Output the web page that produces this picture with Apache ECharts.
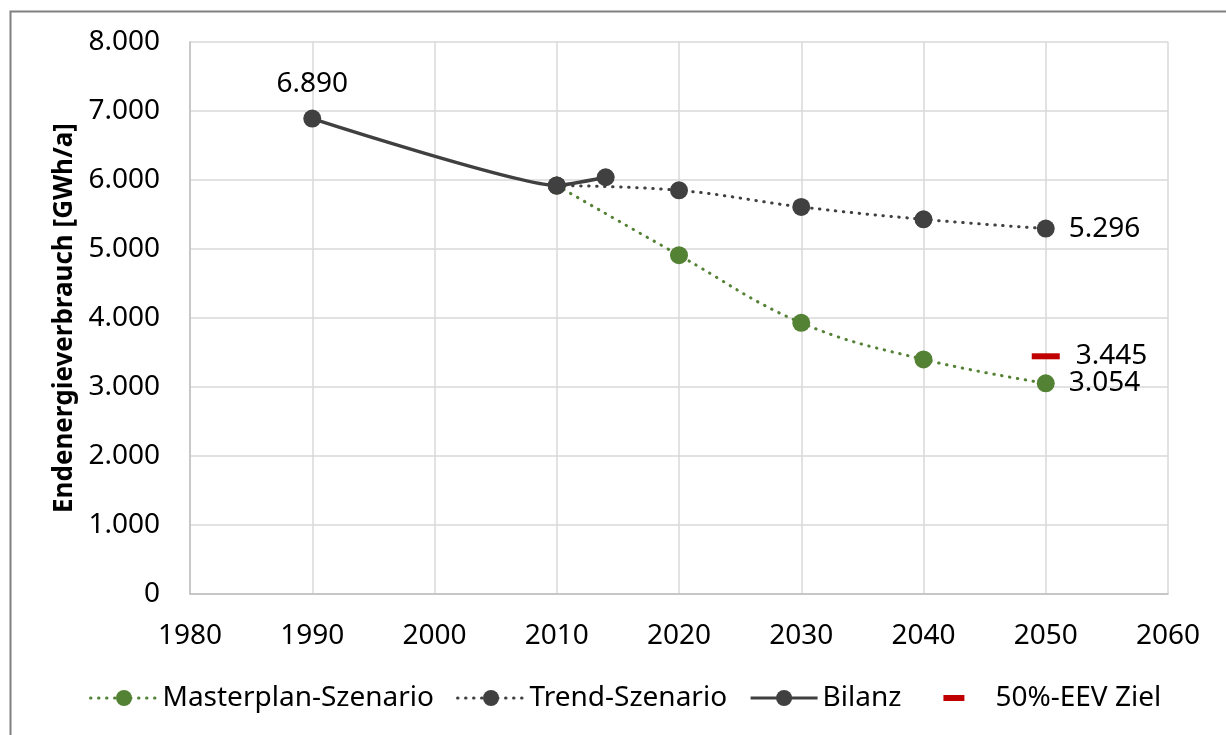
<!DOCTYPE html>
<html>
<head>
<meta charset="utf-8">
<script src="https://cdn.jsdelivr.net/npm/echarts@6/dist/echarts.min.js"></script>
<style>
html,body{margin:0;padding:0;background:#fff;}
#chart{width:1226px;height:735px;}
</style>
</head>
<body>
<div id="chart"></div>
<script>
// ---- data ----
const bilanzYears = [1990, 2010, 2014];
const bilanzValues = [6890, 5920, 6040];
const trendYears = [2010, 2020, 2030, 2040, 2050];
const trendValues = [5920, 5850, 5610, 5430, 5296];
const masterYears = [2010, 2020, 2030, 2040, 2050];
const masterValues = [5920, 4910, 3930, 3400, 3054];
const zielYears = [2050];
const zielValues = [3445];
const seriesNames = ['Masterplan-Szenario', 'Trend-Szenario', 'Bilanz', '50%-EEV Ziel'];
const yAxisTitle = 'Endenergieverbrauch [GWh/a]';

const FONT = '"Noto Sans", sans-serif';
const fmt = v => String(v).replace(/\B(?=(\d{3})+(?!\d))/g, '.');

function pairs(xs, ys, labelIdx, pos, dist) {
  return xs.map((x, i) => {
    const d = { value: [x, ys[i]] };
    if (i === labelIdx) {
      d.label = { show: true, position: pos, distance: dist, formatter: p => fmt(p.value[1]),
        color: '#000', fontSize: 28, fontFamily: FONT };
    }
    return d;
  });
}

const green = '#548235';
const dark = '#404040';
const red = '#C00000';

const chart = echarts.init(document.getElementById('chart'), null, { renderer: 'canvas' });
chart.setOption({
  animation: false,
  backgroundColor: '#fff',
  textStyle: { fontFamily: FONT },
  graphic: [{
    type: 'rect', left: 8, top: 9, silent: true, z: -10,
    shape: { width: 1400, height: 900 },
    style: { fill: 'none', stroke: '#808080', lineWidth: 2 }
  }],
  grid: { left: 190, right: 58, top: 42, bottom: 141, containLabel: false },
  xAxis: {
    type: 'value', min: 1980, max: 2060, interval: 10,
    axisLine: { show: true, lineStyle: { color: '#bfbfbf', width: 1.5 } },
    axisTick: { show: false },
    splitLine: { show: true, lineStyle: { color: '#d9d9d9', width: 1.5 } },
    axisLabel: { color: '#000', fontSize: 28, fontFamily: FONT, margin: 28, formatter: v => String(v) }
  },
  yAxis: {
    type: 'value', min: 0, max: 8000, interval: 1000,
    name: yAxisTitle, nameLocation: 'middle', nameGap: 111, nameRotate: 90,
    nameTextStyle: { color: '#000', fontSize: 26, fontWeight: 'bold', fontFamily: FONT },
    axisLine: { show: true, lineStyle: { color: '#bfbfbf', width: 1.5 } },
    axisTick: { show: false },
    splitLine: { show: true, lineStyle: { color: '#d9d9d9', width: 1.5 } },
    axisLabel: { color: '#000', fontSize: 28, fontFamily: FONT, margin: 30, formatter: v => fmt(v) }
  },
  legend: {
    left: 84, top: 679, itemGap: 22, itemWidth: 67, itemHeight: 20,
    lineStyle: { width: 3 },
    textStyle: { color: '#000', fontSize: 28, fontFamily: FONT },
    data: [
      { name: seriesNames[0] },
      { name: seriesNames[1] },
      { name: seriesNames[2] },
      { name: seriesNames[3], icon: 'path://M0,0M20,7L41,7L41,13L20,13ZM67,20', itemStyle: { color: red, opacity: 1 } }
    ]
  },
  series: [
    {
      name: seriesNames[0], type: 'line', smooth: 0.4, z: 2,
      symbol: 'circle', symbolSize: 18,
      itemStyle: { color: green },
      lineStyle: { color: green, width: 3, type: [0.5, 7.5], cap: 'round' },
      data: pairs(masterYears, masterValues, masterYears.length - 1, 'right', 14)
    },
    {
      name: seriesNames[1], type: 'line', smooth: 0.4, z: 3,
      symbol: 'circle', symbolSize: 18,
      itemStyle: { color: dark },
      lineStyle: { color: dark, width: 3, type: [0.5, 7.5], cap: 'round' },
      data: pairs(trendYears, trendValues, trendYears.length - 1, 'right', 14)
    },
    {
      name: seriesNames[2], type: 'line', smooth: 0.15, z: 4,
      symbol: 'circle', symbolSize: 18,
      itemStyle: { color: dark },
      lineStyle: { color: dark, width: 3.5 },
      data: pairs(bilanzYears, bilanzValues, 0, 'top', 12)
    },
    {
      name: seriesNames[3], type: 'scatter', z: 5,
      symbol: 'rect', symbolSize: [28, 6],
      itemStyle: { color: red, opacity: 1 },
      data: pairs(zielYears, zielValues, 0, 'right', 16)
    }
  ]
});
</script>
</body>
</html>
